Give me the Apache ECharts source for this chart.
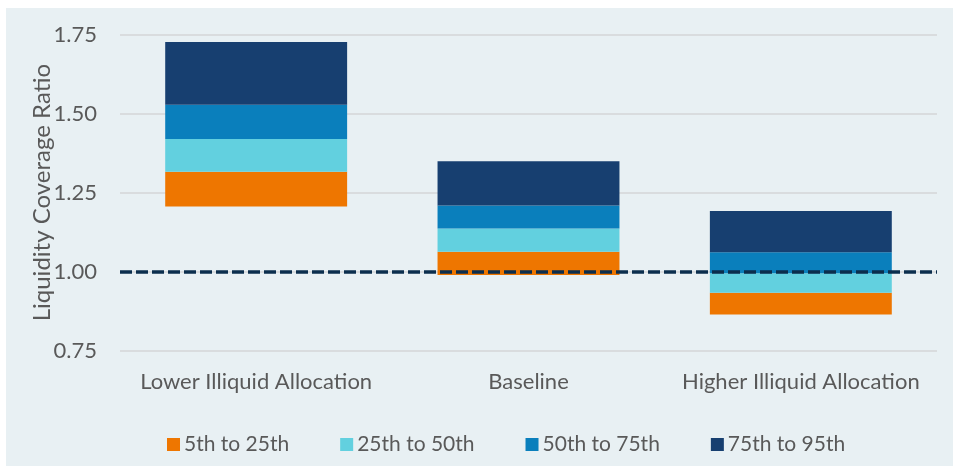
<!DOCTYPE html>
<html>
<head>
<meta charset="utf-8">
<script src="https://cdn.jsdelivr.net/npm/echarts@6/dist/echarts.min.js"></script>
<style>
  html, body { margin: 0; padding: 0; background: #fff; }
  #chart { width: 953px; height: 466px; }
</style>
</head>
<body>
<div id="chart"></div>
<script>
// scenarios
var categories = ['Lower Illiquid Allocation', 'Baseline', 'Higher Illiquid Allocation'];
// percentiles of the liquidity coverage ratio
var p5  = [1.206, 0.989, 0.864];
var p25 = [1.316, 1.063, 0.933];
var p50 = [1.420, 1.136, 0.995];
var p75 = [1.528, 1.209, 1.061];
var p95 = [1.727, 1.349, 1.192];
var bandNames = ['5th to 25th', '25th to 50th', '50th to 75th', '75th to 95th'];
var bandColors = ['#EE7600', '#62D0DF', '#0A7FBC', '#173F70'];
var yTicks = { min: 0.75, max: 1.75, interval: 0.25 };
var threshold = 1.0;

var font = 'Lato, "Open Sans", sans-serif';
var textColor = '#595959';

function diff(a, b) {
  return a.map(function (v, i) { return +(v - b[i]).toFixed(3); });
}
var levels = [p5, p25, p50, p75, p95];

var series = [{
  name: 'base',
  type: 'bar',
  stack: 'lcr',
  barWidth: '66.8%',
  itemStyle: { color: 'transparent' },
  silent: true,
  data: p5
}];
bandNames.forEach(function (nm, i) {
  series.push({
    name: nm,
    type: 'bar',
    stack: 'lcr',
    barWidth: '66.8%',
    itemStyle: { color: bandColors[i] },
    data: diff(levels[i + 1], levels[i])
  });
});
// dashed line at 1.00
series[series.length - 1].markLine = {
  silent: true,
  symbol: 'none',
  label: { show: false },
  z: 10,
  lineStyle: { type: [12, 4], color: '#0B2E4D', width: 3.5 },
  data: [{ yAxis: threshold }]
};

var option = {
  animation: false,
  textStyle: { fontFamily: font },
  graphic: [{
    type: 'rect',
    z: -10,
    shape: { x: 6, y: 8, width: 947, height: 458 },
    style: { fill: '#E8F0F3' }
  }],
  grid: { left: 120, right: 16, top: 34.7, bottom: 115.5 },
  legend: {
    data: bandNames,
    left: 162,
    top: 429,
    icon: 'rect',
    itemWidth: 13,
    itemHeight: 13,
    itemGap: 51,
    textStyle: { color: textColor, fontSize: 21, fontFamily: font, padding: [0, 0, 0, -1] }
  },
  xAxis: {
    type: 'category',
    data: categories,
    axisLine: { show: false },
    axisTick: { show: false },
    axisLabel: { color: textColor, fontSize: 22, fontFamily: font, margin: 20, interval: 0 }
  },
  yAxis: {
    type: 'value',
    min: yTicks.min,
    max: yTicks.max,
    interval: yTicks.interval,
    name: 'Liquidity Coverage Ratio',
    nameLocation: 'middle',
    nameGap: 66,
    nameMoveOverlap: false,
    nameTextStyle: { color: textColor, fontSize: 24, fontFamily: font },
    axisLine: { show: false },
    axisTick: { show: false },
    axisLabel: {
      color: textColor, fontSize: 22, fontFamily: font, margin: 23,
      formatter: function (v) { return v.toFixed(2); }
    },
    splitLine: { lineStyle: { color: '#D9DCDE', width: 2 } }
  },
  series: series
};

var chart = echarts.init(document.getElementById('chart'));
chart.setOption(option);
</script>
</body>
</html>
